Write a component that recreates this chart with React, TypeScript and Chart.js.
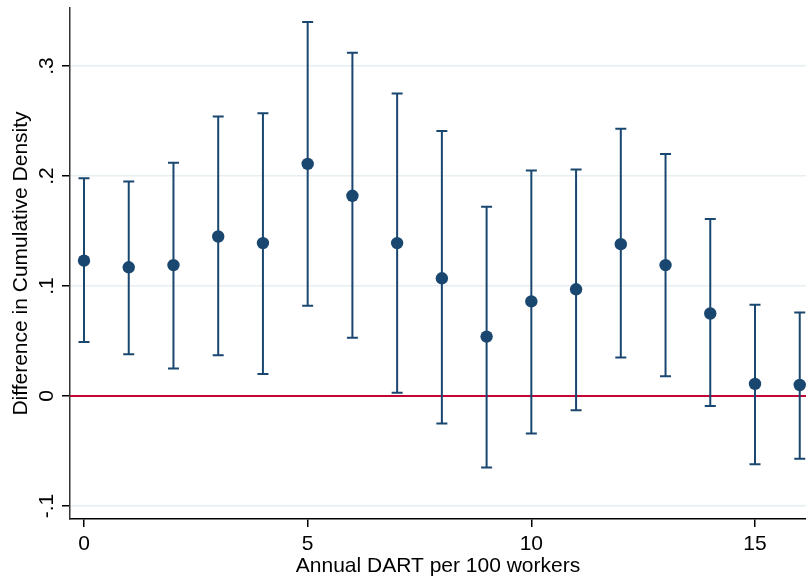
import React, { useEffect, useRef } from "react";
import { Chart, registerables } from "chart.js";

Chart.register(...registerables);

// ---- Data ----
const xValues = [0, 1, 2, 3, 4, 5, 6, 7, 8, 9, 10, 11, 12, 13, 14, 15, 16];
const estimates = [0.123, 0.117, 0.119, 0.145, 0.139, 0.211, 0.182, 0.139, 0.107, 0.054, 0.086, 0.097, 0.138, 0.119, 0.075, 0.011, 0.010];
const upperCI = [0.198, 0.195, 0.212, 0.254, 0.257, 0.340, 0.312, 0.275, 0.241, 0.172, 0.205, 0.206, 0.243, 0.220, 0.161, 0.083, 0.076];
const lowerCI = [0.049, 0.038, 0.025, 0.037, 0.020, 0.082, 0.053, 0.003, -0.025, -0.065, -0.034, -0.013, 0.035, 0.018, -0.009, -0.062, -0.057];

const xTicks = [0, 5, 10, 15];
const xTickLabels = ["0", "5", "10", "15"];
const yTicks = [-0.1, 0, 0.1, 0.2, 0.3];
const yTickLabels = ["-.1", "0", ".1", ".2", ".3"];
const referenceLine = 0;

const xTitle = "Annual DART per 100 workers";
const yTitle = "Difference in Cumulative Density";

const FONT = "'Liberation Sans', Arial, Helvetica, sans-serif";
const FONT_SIZE = 21;
const NAVY = "#1a476f";
const RED = "#c10534";

const overlayPlugin = {
  id: "stataOverlay",
  beforeDatasetsDraw(chart: any) {
    const { ctx, chartArea } = chart;
    const xs = chart.scales.x;
    const ys = chart.scales.y;
    ctx.save();
    // reference line
    const yr = ys.getPixelForValue(referenceLine);
    ctx.strokeStyle = RED;
    ctx.lineWidth = 2;
    ctx.beginPath();
    ctx.moveTo(chartArea.left, yr);
    ctx.lineTo(chartArea.right, yr);
    ctx.stroke();
    // error bars
    ctx.strokeStyle = NAVY;
    ctx.lineWidth = 2;
    const cap = 5.5;
    xValues.forEach((xv, i) => {
      const px = xs.getPixelForValue(xv);
      const pt = ys.getPixelForValue(upperCI[i]);
      const pb = ys.getPixelForValue(lowerCI[i]);
      ctx.beginPath();
      ctx.moveTo(px, pt);
      ctx.lineTo(px, pb);
      ctx.moveTo(px - cap, pt);
      ctx.lineTo(px + cap, pt);
      ctx.moveTo(px - cap, pb);
      ctx.lineTo(px + cap, pb);
      ctx.stroke();
    });
    ctx.restore();
  },
  afterDraw(chart: any) {
    const { ctx } = chart;
    const ys = chart.scales.y;
    ctx.save();
    ctx.font = `${FONT_SIZE}px ${FONT}`;
    ctx.fillStyle = "#000";
    ctx.textAlign = "center";
    ctx.textBaseline = "alphabetic";
    yTicks.forEach((v, i) => {
      const py = ys.getPixelForValue(v);
      ctx.save();
      ctx.translate(ys.right - 17, py);
      ctx.rotate(-Math.PI / 2);
      ctx.fillText(yTickLabels[i], 0, 0);
      ctx.restore();
    });
    ctx.restore();
  },
};

export default function App() {
  const canvasRef = useRef<HTMLCanvasElement | null>(null);

  useEffect(() => {
    document.body.style.margin = "0";
    const canvas = canvasRef.current;
    if (!canvas) return;
    const chart = new Chart(canvas, {
      type: "scatter",
      data: {
        datasets: [
          {
            data: xValues.map((x, i) => ({ x, y: estimates[i] })),
            backgroundColor: NAVY,
            borderColor: NAVY,
            borderWidth: 0,
            pointRadius: 6.2,
            pointHoverRadius: 6.2,
            showLine: false,
            clip: false as any,
          },
        ],
      },
      options: {
        responsive: false,
        animation: false,
        devicePixelRatio: 1,
        layout: { autoPadding: false, padding: { top: 8, right: 0, left: 0, bottom: 0 } },
        plugins: {
          legend: { display: false },
          tooltip: { enabled: false },
        },
        scales: {
          x: {
            type: "linear",
            min: -0.313,
            max: 16.14,
            afterBuildTicks: (s: any) => {
              s.ticks = xTicks.map((v) => ({ value: v }));
            },
            afterFit: (s: any) => {
              s.height = 62;
            },
            ticks: {
              autoSkip: false,
              maxRotation: 0,
              minRotation: 0,
              padding: 5,
              color: "#000",
              font: { family: FONT, size: FONT_SIZE },
              callback: (v: any) => {
                const idx = xTicks.indexOf(Number(v));
                return idx >= 0 ? xTickLabels[idx] : "";
              },
            },
            grid: {
              drawOnChartArea: false,
              drawTicks: true,
              tickLength: 8,
              tickColor: "#000",
              lineWidth: 1.5,
            },
            border: { color: "#000", width: 1.5 },
            title: {
              display: true,
              text: xTitle,
              color: "#000",
              font: { family: FONT, size: FONT_SIZE },
              padding: { top: 0, bottom: 2 },
            },
          },
          y: {
            type: "linear",
            min: -0.1118,
            max: 0.3527,
            afterBuildTicks: (s: any) => {
              s.ticks = yTicks.map((v) => ({ value: v }));
            },
            afterFit: (s: any) => {
              s.width = 70;
            },
            ticks: { display: false },
            grid: {
              color: "#e6eef1",
              lineWidth: 1.5,
              drawTicks: true,
              tickLength: 8,
              tickColor: "#000",
            },
            border: { color: "#333", width: 1.5 },
            title: {
              display: true,
              text: yTitle,
              color: "#000",
              font: { family: FONT, size: FONT_SIZE },
              padding: { top: 9, bottom: 0 },
            },
          },
        },
      },
      plugins: [overlayPlugin],
    });
    return () => chart.destroy();
  }, []);

  return (
    <div style={{ width: 806, height: 581, background: "#fff" }}>
      <canvas ref={canvasRef} width={806} height={581} style={{ display: "block", width: 806, height: 581 }} />
    </div>
  );
}
